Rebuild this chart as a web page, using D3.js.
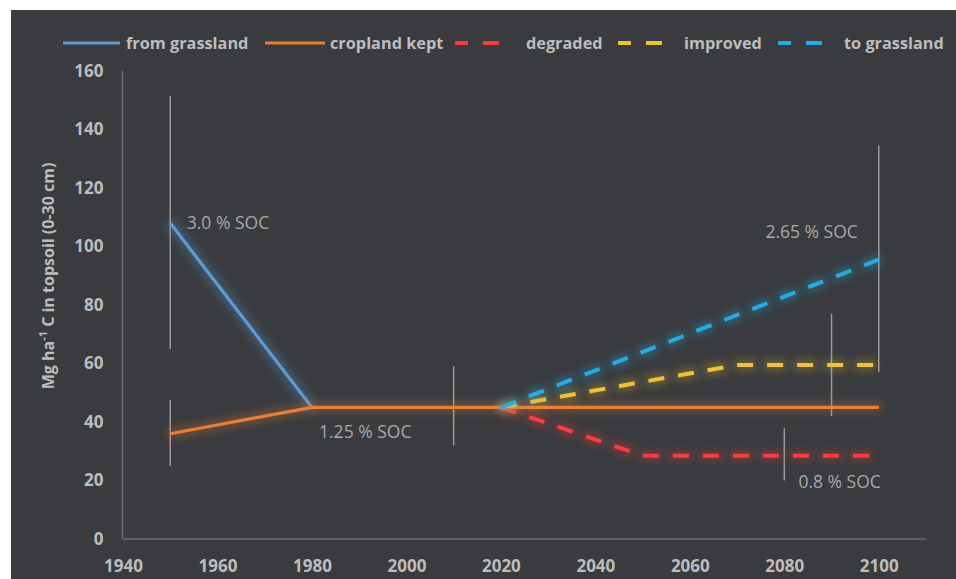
<!DOCTYPE html>
<html>
<head>
<meta charset="utf-8">
<script src="https://cdn.jsdelivr.net/npm/d3@7"></script>
<style>
  html, body { margin: 0; padding: 0; background: #ffffff; }
  svg { display: block; }
  text { font-family: "Open Sans", "Noto Sans", sans-serif; }
</style>
</head>
<body>
<svg id="chart" width="956" height="579"></svg>
<script>
// ---------- data ----------
const xTicks = [1940, 1960, 1980, 2000, 2020, 2040, 2060, 2080, 2100];
const yTicks = [0, 20, 40, 60, 80, 100, 120, 140, 160];

const fromGrasslandYears = [1950, 1980];
const fromGrasslandValues = [108, 45];

const croplandKeptYears = [1950, 1980, 2020, 2100];
const croplandKeptValues = [36, 45, 45, 45];

const degradedYears = [2020, 2050, 2100];
const degradedValues = [45, 28.5, 28.5];

const improvedYears = [2020, 2070, 2100];
const improvedValues = [45, 59.5, 59.5];

const toGrasslandYears = [2020, 2100];
const toGrasslandValues = [45, 95.5];

// error bars (vertical ranges)
const errorYears = [1950, 1950, 2010, 2080, 2090, 2100];
const errorLow   = [65, 25, 32, 20, 42, 57];
const errorHigh  = [151.5, 47.5, 59, 38, 77, 134.5];

// annotations
const annoText  = ["3.0 % SOC", "1.25 % SOC", "2.65 % SOC", "0.8 % SOC"];
const annoYears = [1953.5, 1981.5, 2076, 2083];
const annoValues = [106, 34.5, 103, 17.5];

const seriesNames = ["from grassland", "cropland kept", "degraded", "improved", "to grassland"];

// ---------- styles ----------
const colors = {
  "from grassland": "#5b9bd5",
  "cropland kept": "#ed7d31",
  "degraded": "#ff3a3a",
  "improved": "#f2c230",
  "to grassland": "#23ade6"
};
const dashed = { "from grassland": false, "cropland kept": false, "degraded": true, "improved": true, "to grassland": true };

const series = [
  { name: "from grassland", years: fromGrasslandYears, values: fromGrasslandValues },
  { name: "cropland kept", years: croplandKeptYears, values: croplandKeptValues },
  { name: "degraded", years: degradedYears, values: degradedValues },
  { name: "improved", years: improvedYears, values: improvedValues },
  { name: "to grassland", years: toGrasslandYears, values: toGrasslandValues }
];

const svg = d3.select("#chart");
const W = 956, H = 579;

// panel
svg.append("rect").attr("x", 11).attr("y", 10).attr("width", W - 11).attr("height", H - 10).attr("fill", "#393b3e");

const x = d3.scaleLinear().domain([1940, 2110]).range([123, 926]);
const y = d3.scaleLinear().domain([0, 160]).range([539, 71]);

const textCol = "#bdbdbd";

// glow filter
const defs = svg.append("defs");
const f = defs.append("filter").attr("id", "glow")
  .attr("filterUnits", "userSpaceOnUse")
  .attr("x", 0).attr("y", 0).attr("width", W).attr("height", H);
f.append("feMorphology").attr("in", "SourceGraphic").attr("operator", "dilate").attr("radius", 3).attr("result", "d");
f.append("feGaussianBlur").attr("in", "d").attr("stdDeviation", 4).attr("result", "b");
f.append("feComponentTransfer").attr("in", "b").attr("result", "b2")
  .append("feFuncA").attr("type", "linear").attr("slope", 0.3);
const m = f.append("feMerge");
m.append("feMergeNode").attr("in", "b2");
m.append("feMergeNode").attr("in", "SourceGraphic");

// axes
const xAxis = d3.axisBottom(x).tickValues(xTicks).tickSize(0).tickFormat(d3.format("d"));
const gx = svg.append("g").attr("transform", "translate(0,539)").call(xAxis);
gx.select(".domain").attr("stroke", "#6b6d70").attr("stroke-width", 1.5).attr("d", "M123,0H926");
gx.selectAll("text").attr("fill", textCol).attr("font-size", 17).attr("font-weight", 700)
  .attr("dy", null).attr("y", 33);

const yAxis = d3.axisLeft(y).tickValues(yTicks).tickSize(0);
const gy = svg.append("g").attr("transform", "translate(122.5,0)").call(yAxis);
gy.select(".domain").attr("stroke", "#6b6d70").attr("stroke-width", 1.5).attr("d", "M0,539V71");
gy.selectAll("text").attr("fill", textCol).attr("font-size", 17).attr("font-weight", 700).attr("x", -19);

// y-axis title
const yt = svg.append("text")
  .attr("transform", "translate(54,276) rotate(-90)")
  .attr("text-anchor", "middle")
  .attr("fill", textCol).attr("font-size", 16).attr("font-weight", 700);
yt.append("tspan").text("Mg ha");
yt.append("tspan").text("-1").attr("font-size", 11).attr("baseline-shift", "super");
yt.append("tspan").text(" C in topsoil (0-30 cm)");

// error bars
svg.append("g").selectAll("line").data(errorYears).join("line")
  .attr("x1", d => x(d)).attr("x2", d => x(d))
  .attr("y1", (d, i) => y(errorLow[i])).attr("y2", (d, i) => y(errorHigh[i]))
  .attr("stroke", "#9a9a9a").attr("stroke-width", 1.5);

// lines
const line = d3.line().x(d => x(d[0])).y(d => y(d[1]));
series.forEach((s, i) => {
  const pts = s.years.map((yr, k) => [yr, s.values[k]]);
  svg.append("path").datum(pts)
    .attr("d", line)
    .attr("fill", "none")
    .attr("stroke", colors[s.name])
    .attr("stroke-width", dashed[s.name] ? 4 : 3.2)
    .attr("stroke-dasharray", dashed[s.name] ? "16,14" : null)
    .attr("stroke-linejoin", "round")
    .attr("filter", "url(#glow)");
});

// annotations
svg.append("g").selectAll("text").data(annoText).join("text")
  .attr("x", (d, i) => x(annoYears[i]))
  .attr("y", (d, i) => y(annoValues[i]))
  .attr("fill", "#a8a8a8").attr("font-size", 17.5)
  .text(d => d);

// legend
const legendX = [63, 265, 455, 618, 778];
const legendLen = [57, 60, 54, 48, 48];
const legendTextX = [126, 330, 526, 684, 844];
const lg = svg.append("g");
seriesNames.forEach((n, i) => {
  lg.append("line")
    .attr("x1", legendX[i]).attr("x2", legendX[i] + legendLen[i])
    .attr("y1", 43).attr("y2", 43)
    .attr("stroke", colors[n]).attr("stroke-width", dashed[n] ? 4 : 3.2)
    .attr("stroke-dasharray", dashed[n] ? "16,15" : null)
    .attr("stroke-dashoffset", dashed[n] ? 3 : null);
  lg.append("text").attr("x", legendTextX[i]).attr("y", 43).attr("dy", "0.35em")
    .attr("fill", textCol).attr("font-size", 16.3).attr("font-weight", 700).text(n);
});
</script>
</body>
</html>
